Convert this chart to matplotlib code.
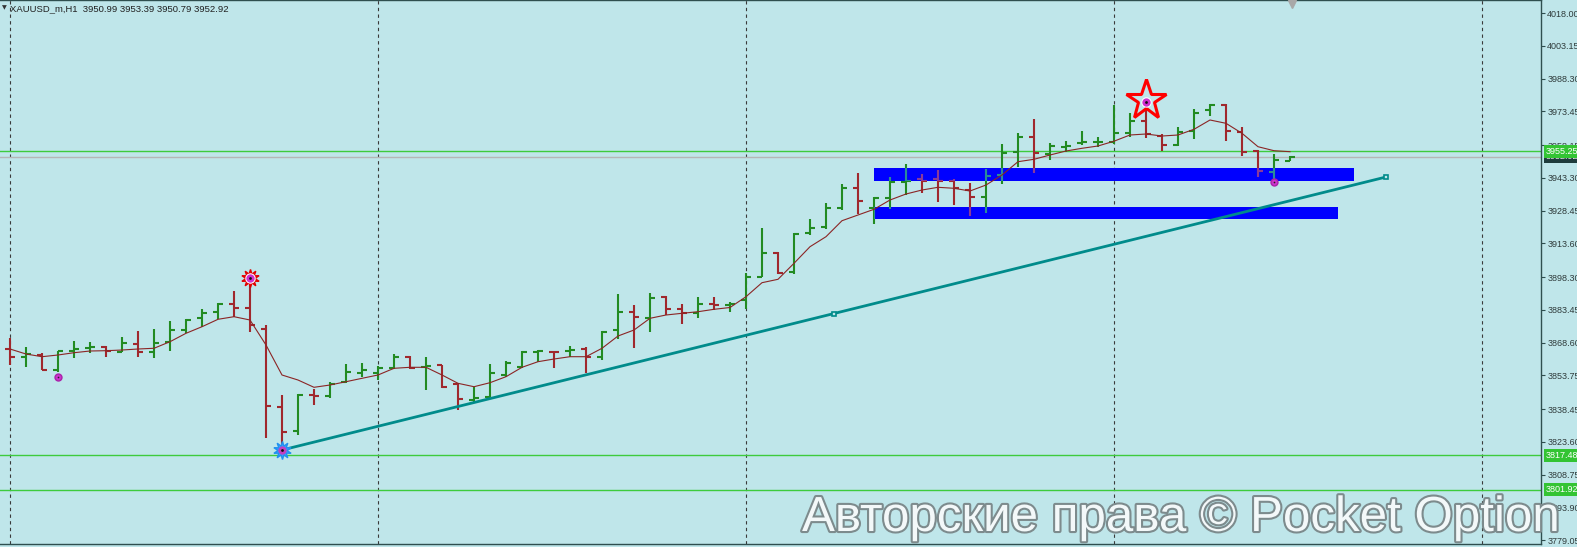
import matplotlib
matplotlib.use("Agg")
import matplotlib.pyplot as plt
import matplotlib.transforms as mtransforms
import matplotlib.patheffects as pe
from matplotlib.collections import LineCollection
from matplotlib.patches import Rectangle
import numpy as np

# ---------------- data ----------------
title_text = "XAUUSD_m,H1  3950.99 3953.39 3950.79 3952.92"
watermark = "Авторские права © Pocket Option"

opens = [
    3865.67, 3862.18, 3862.95, 3856.30, 3864.76, 3866.12, 3866.71, 3864.44, 3867.80, 3864.44,
    3868.98, 3874.28, 3879.59, 3882.31, 3886.20, 3884.04, 3874.74, 3839.50, 3828.61, 3844.81,
    3844.35, 3850.84, 3854.65, 3854.65, 3856.92, 3862.18, 3857.51, 3858.41, 3849.80, 3842.54,
    3844.04, 3853.88, 3857.64, 3864.44, 3864.53, 3864.90, 3865.53, 3862.18, 3874.28, 3882.58,
    3879.59, 3889.39, 3883.67, 3882.13, 3886.08, 3885.85, 3887.89, 3898.46, 3909.34, 3900.72,
    3918.14, 3920.86, 3929.75, 3938.55, 3929.48, 3934.01, 3941.54, 3942.63, 3942.63, 3941.99,
    3937.77, 3934.46, 3944.58, 3955.15, 3961.95, 3954.10, 3957.50, 3958.95, 3959.54, 3959.68,
    3963.76, 3969.20, 3962.26, 3958.18, 3964.67, 3974.05, 3976.32, 3964.21, 3955.60, 3946.07,
    3950.99]
highs = [
    3870.52, 3866.44, 3863.72, 3864.90, 3869.43, 3868.98, 3867.17, 3870.97, 3873.97, 3874.60,
    3878.50, 3879.14, 3883.67, 3886.39, 3891.97, 3894.69, 3876.55, 3844.81, 3845.26, 3847.39,
    3850.84, 3858.87, 3859.18, 3857.96, 3863.40, 3862.49, 3862.18, 3858.64, 3850.11, 3848.57,
    3858.87, 3860.36, 3864.90, 3865.21, 3864.76, 3867.03, 3866.44, 3873.97, 3890.61, 3885.62,
    3891.20, 3889.48, 3885.94, 3889.12, 3889.12, 3887.12, 3900.27, 3920.41, 3909.80, 3918.14,
    3924.49, 3932.02, 3940.50, 3945.35, 3934.74, 3943.53, 3949.57, 3945.03, 3946.84, 3942.63,
    3941.09, 3947.16, 3958.64, 3963.76, 3969.84, 3958.95, 3960.13, 3964.67, 3961.95, 3976.32,
    3972.56, 3977.82, 3963.17, 3966.48, 3974.37, 3976.78, 3976.78, 3966.21, 3955.92, 3954.10,
    3953.39]
lows = [
    3858.41, 3857.37, 3856.14, 3855.37, 3861.45, 3863.72, 3861.90, 3864.17, 3861.90, 3861.45,
    3864.76, 3873.06, 3875.78, 3879.27, 3880.32, 3873.38, 3825.17, 3819.86, 3826.67, 3840.27,
    3843.31, 3850.39, 3853.11, 3851.61, 3856.46, 3856.46, 3847.07, 3847.85, 3838.00, 3841.77,
    3843.90, 3853.11, 3856.92, 3859.91, 3856.92, 3861.90, 3854.65, 3860.68, 3870.07, 3865.99,
    3873.51, 3881.09, 3876.87, 3879.59, 3883.35, 3882.58, 3883.67, 3898.30, 3899.68, 3899.68,
    3917.37, 3919.95, 3928.70, 3926.89, 3922.36, 3929.02, 3935.51, 3936.55, 3932.47, 3930.97,
    3925.98, 3927.21, 3940.50, 3948.07, 3945.62, 3951.38, 3955.15, 3958.18, 3957.41, 3958.64,
    3961.95, 3961.22, 3955.60, 3957.73, 3960.77, 3971.33, 3960.13, 3953.19, 3943.53, 3942.31,
    3950.79]
closes = [
    3862.18, 3863.40, 3856.30, 3864.70, 3865.53, 3866.58, 3864.76, 3868.25, 3864.44, 3868.25,
    3874.28, 3879.00, 3881.86, 3886.20, 3884.49, 3876.33, 3839.82, 3828.16, 3844.81, 3844.35,
    3849.80, 3855.37, 3856.14, 3856.92, 3862.18, 3856.92, 3857.96, 3848.30, 3842.86, 3843.58,
    3854.65, 3859.18, 3864.44, 3864.67, 3864.31, 3865.21, 3862.18, 3873.51, 3882.58, 3880.04,
    3888.66, 3883.67, 3881.86, 3886.08, 3885.85, 3886.08, 3898.18, 3909.07, 3900.27, 3917.82,
    3920.41, 3929.48, 3938.55, 3932.79, 3934.01, 3941.54, 3941.99, 3941.99, 3941.99, 3938.55,
    3934.46, 3944.12, 3954.69, 3961.95, 3954.42, 3957.73, 3957.73, 3959.41, 3959.77, 3963.49,
    3969.20, 3963.17, 3958.18, 3964.21, 3972.83, 3976.32, 3964.67, 3955.15, 3946.53, 3951.38,
    3952.92]
ma_values = [
    3865.67, 3863.40, 3862.18, 3862.95, 3863.99, 3864.76, 3864.90, 3865.21, 3865.67, 3866.00,
    3868.98, 3872.79, 3875.78, 3879.14, 3880.32, 3878.82, 3867.48, 3853.88, 3851.61, 3848.30,
    3849.34, 3850.84, 3852.38, 3853.88, 3856.92, 3857.37, 3857.37, 3853.88, 3850.11, 3848.57,
    3850.39, 3853.11, 3857.37, 3859.91, 3861.13, 3862.18, 3862.18, 3865.99, 3871.56, 3874.28,
    3879.59, 3881.09, 3881.86, 3882.58, 3883.67, 3884.49, 3889.39, 3895.74, 3897.28, 3904.53,
    3912.06, 3916.60, 3923.85, 3926.44, 3929.02, 3933.24, 3935.96, 3937.77, 3939.00, 3938.55,
    3937.32, 3940.04, 3944.58, 3950.61, 3951.70, 3953.65, 3955.46, 3956.69, 3957.73, 3959.91,
    3962.72, 3963.17, 3962.26, 3962.72, 3965.30, 3969.52, 3968.02, 3963.49, 3957.41, 3955.60,
    3955.15]

price_tick_labels = ["4018.00", "4003.15", "3988.30", "3973.45", "3958.15", "3943.30",
                     "3928.45", "3913.60", "3898.30", "3883.45", "3868.60", "3853.75",
                     "3838.45", "3823.60", "3808.75", "3793.90", "3779.05"]
level_prices = [3955.25, 3817.48, 3801.92]
level_labels = ["3955.25", "3817.48", "3801.92"]
bid_price = 3952.92
bid_label = "3952.92"
day_separator_bars = [0, 23, 46, 69, 92]

# zones: (start bar, end bar, low price, high price)
zone_upper = (54, 84, 3941.99, 3947.75)
zone_lower = (54, 83, 3924.62, 3930.20)

trend_bars = [17, 86]
trend_prices = [3819.86, 3943.67]

dot_bars = [3, 79]
dot_prices = [3852.97, 3941.54]
gear_red = (15, 3897.73)
gear_blue = (17, 3819.86)
star_mark = (71, 3977.82)

# ---------------- style ----------------
BG = "#BFE6EA"
GREEN = "#228B22"
RED = "#A0282D"
GREEN_ON_BLUE = "#2A8C99"
RED_ON_BLUE = "#8A3A9A"
MA_COL = "#8B2525"
LEVEL_COL = "#3DCB3D"
SPINE = "#2F4F4F"
TXT = "#2F3B3B"

W, H = 1577, 547
fig = plt.figure(figsize=(W / 100, H / 100), dpi=100, facecolor=BG)
ax = fig.add_axes([0, 3 / H, 1541 / W, 544 / H], facecolor=BG)

n = len(opens)
x = np.arange(n)
o = np.array(opens); h = np.array(highs); l = np.array(lows); c = np.array(closes)

ax.set_xlim(-0.625, 95.6875)
ax.set_ylim(3777.24, 4023.94)

# day separators
for b in day_separator_bars:
    ax.axvline(b, color="#3A3A3A", lw=0.8, ls=(0, (3, 3)), zorder=0.5)

# horizontal levels
for lv in level_prices:
    ax.axhline(lv, color=LEVEL_COL, lw=1.0, zorder=1.5)
ax.axhline(bid_price, color="#B5B5B5", lw=1.0, zorder=1.4)

# zones
zone_patches = []
for (b0, b1, p0, p1) in (zone_upper, zone_lower):
    r = Rectangle((b0, p0), b1 - b0, p1 - p0, facecolor="#0000FF", edgecolor="none", zorder=1)
    ax.add_patch(r)
    zone_patches.append(r)

# OHLC bars
tick = 0.33
segs, cols, cols_blue = [], [], []
for i in range(n):
    up = c[i] >= o[i]
    col = GREEN if up else RED
    colb = GREEN_ON_BLUE if up else RED_ON_BLUE
    segs += [[(x[i], l[i]), (x[i], h[i])],
             [(x[i] - tick, o[i]), (x[i], o[i])],
             [(x[i], c[i]), (x[i] + tick, c[i])]]
    cols += [col] * 3
    cols_blue += [colb] * 3
ax.add_collection(LineCollection(segs, colors=cols, linewidths=1.5, capstyle="butt", zorder=2))
for r in zone_patches:
    lc = LineCollection(segs, colors=cols_blue, linewidths=1.5, capstyle="butt", zorder=2.1)
    ax.add_collection(lc)
    lc.set_clip_path(r)

# moving average
ax.plot(x, ma_values, color=MA_COL, lw=0.8, zorder=3)

# trendline
ax.plot(trend_bars, trend_prices, color="#008B8B", lw=2.0, zorder=3.2, solid_capstyle="butt")
mid_b = np.mean(trend_bars); mid_p = np.mean(trend_prices)
ax.plot([mid_b, trend_bars[1]], [mid_p, trend_prices[1]], ls="none", marker="s", ms=3.5,
        mfc=BG, mec="#008B8B", mew=1.2, zorder=3.3)

# markers
ax.plot(dot_bars, dot_prices, ls="none", marker="o", ms=5, mfc="#CC33CC", mec="#AA22AA", zorder=4)
ax.plot(dot_bars, dot_prices, ls="none", marker="o", ms=1.2, mfc="#222222", mec="none", zorder=4.1)

ax.plot(*gear_red, marker=(10, 1, 0), ms=13, mfc="#FF2020", mec="#E00000", zorder=4)
ax.plot(*gear_red, marker="o", ms=7.5, mfc="#FFFFFF", mec="none", zorder=4.1)
ax.plot(*gear_red, marker="o", ms=6, mfc="#D030D0", mec="none", zorder=4.2)
ax.plot(*gear_red, marker="o", ms=2, mfc="#111111", mec="none", zorder=4.3)

ax.plot(*gear_blue, marker=(10, 1, 0), ms=13, mfc="#3AA0FF", mec="#2090F0", zorder=4)
ax.plot(*gear_blue, marker="o", ms=6, mfc="#C040C0", mec="none", zorder=4.2)
ax.plot(*gear_blue, marker="o", ms=2, mfc="#111111", mec="none", zorder=4.3)

ax.plot(star_mark[0], star_mark[1] + 0.8, marker="*", ms=30, mfc="none", mec="#FF0000", mew=2.2, zorder=4)
ax.plot(*star_mark, marker="o", ms=7.5, mfc="#FFFFFF", mec="none", zorder=4.1)
ax.plot(*star_mark, marker="o", ms=6, mfc="#D030D0", mec="none", zorder=4.2)
ax.plot(*star_mark, marker="o", ms=2, mfc="#111111", mec="none", zorder=4.3)

# gray triangle at the top (chart shift marker)
ax.plot([80.1], [0.992], transform=mtransforms.blended_transform_factory(ax.transData, ax.transAxes),
        marker="v", ms=6, color="#A8A8A8", ls="none", clip_on=False, zorder=5)

# spines / axis
ax.spines["left"].set_visible(False)
for s in ("right", "bottom", "top"):
    ax.spines[s].set_color(SPINE)
    ax.spines[s].set_linewidth(1.0)
ax.set_xticks([])
ax.yaxis.tick_right()
ax.set_yticks([float(v) for v in price_tick_labels])
ax.set_yticklabels(price_tick_labels, fontsize=6.5, family="Liberation Sans", color=TXT)
ax.tick_params(axis="y", length=3, width=0.8, color=SPINE, pad=1.5)

# price boxes on the axis
bt = mtransforms.blended_transform_factory(ax.transAxes, ax.transData)
xbox = 1546 / 1541
ax.text(xbox, bid_price, bid_label, transform=bt, ha="left", va="center", fontsize=6.5,
        family="Liberation Sans", color="#E8E8E8", clip_on=False, zorder=6,
        bbox=dict(boxstyle="square,pad=0.2", fc="#1E3C3C", ec="none"))
for lv, lab in zip(level_prices, level_labels):
    ax.text(xbox, lv, lab, transform=bt, ha="left", va="center", fontsize=6.5,
            family="Liberation Sans", color="#FFFFFF", clip_on=False, zorder=7,
            bbox=dict(boxstyle="square,pad=0.2", fc="#33C433", ec="none"))

# title
fig.text(2 / W, 1 - 8 / H, "▼", fontsize=4.5, color="#333333", va="center", ha="left")
fig.text(10 / W, 1 - 9 / H, title_text, fontsize=6.8, family="Liberation Sans",
         color="#202020", va="center", ha="left")

# watermark
fig.text(802 / W, (H - 531) / H, watermark, fontsize=35.5, family="Liberation Sans",
         color="#F3F8F9", va="baseline", ha="left", zorder=10,
         path_effects=[pe.withStroke(linewidth=3, foreground="#7D8B8D")])

fig.savefig("out.png", dpi=100, facecolor=BG)
